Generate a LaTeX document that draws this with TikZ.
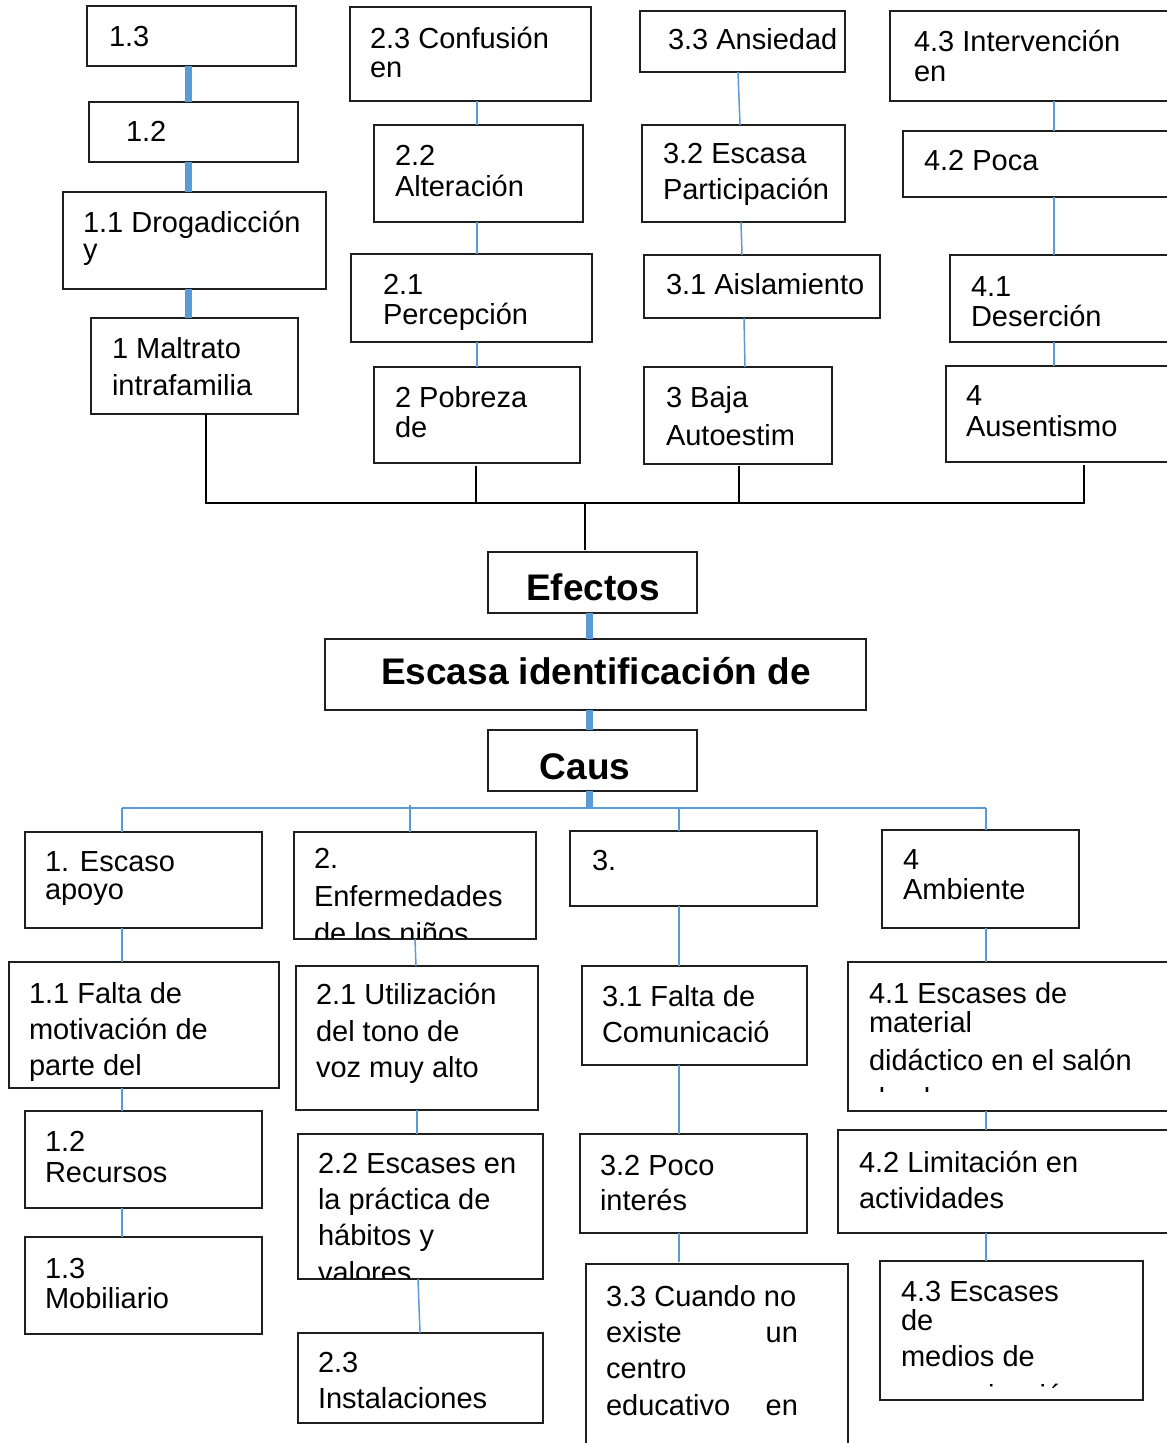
\documentclass[tikz,border=0pt]{standalone}
\usepackage{fontspec}
\setmainfont{Liberation Sans}
\usetikzlibrary{calc}
\definecolor{wblue}{RGB}{91,155,213}
\newcommand\mkbox[5]{\node[box, minimum width={#4-#2}, minimum height={#5-#3}] (#1) at (#2,#3) {};}
\newcommand\tline[4]{\node[txt] (#1) at (#2,#3) {#4};}
\begin{document}
\begin{tikzpicture}[x=1pt,y=-1pt,
  box/.style={draw=black!88, line width=1.6pt, inner sep=0pt, outer sep=0pt, anchor=north west},
  txt/.style={anchor=base west, inner sep=0pt, outer sep=0pt, font=\fontsize{29}{34}\selectfont},
  btxt/.style={anchor=base, inner sep=0pt, outer sep=0pt, font=\fontsize{37}{44}\selectfont\bfseries},
  thk/.style={draw=wblue, line width=7pt},
  thn/.style={draw=wblue, line width=1.5pt},
  blk/.style={draw=black, line width=2pt}]
\useasboundingbox (0,0) rectangle (1167,1443);
\fill[white] (0,0) rectangle (1167,1443);

% ---------- top (effects) boxes ----------
\mkbox{b13}{87}{6}{296}{66}
\mkbox{b12}{89}{102}{298}{162}
\mkbox{b11}{63}{192}{326}{289}
\mkbox{b1}{91}{318}{298}{414}
\mkbox{b23}{350}{7}{591}{101}
\mkbox{b22}{374}{125}{583}{222}
\mkbox{b21}{351}{254}{592}{342}
\mkbox{b2}{374}{367}{580}{463}
\mkbox{b33}{640}{11}{845}{72}
\mkbox{b32}{642}{125}{845}{222}
\mkbox{b31}{644}{255}{880}{318}
\mkbox{b3}{644}{367}{832}{464}
\mkbox{b43}{890}{11}{1176}{101}
\mkbox{b42}{903}{131}{1176}{197}
\mkbox{b41}{950}{255}{1176}{342}
\mkbox{b4}{946}{366}{1176}{462}

\tline{t13}{109}{46}{1.3}
\tline{t12}{126}{141}{1.2}
\tline{t11a}{83}{232}{1.1 Drogadicción}
\tline{t11b}{83}{259}{y}
\tline{t1a}{112}{358}{1 Maltrato}
\tline{t1b}{112}{395}{intrafamilia}
\tline{t23a}{370}{48}{2.3 Confusión}
\tline{t23b}{370}{77}{en}
\tline{t22a}{395}{165}{2.2}
\tline{t22b}{395}{196}{Alteración}
\tline{t21a}{383}{294}{2.1}
\tline{t21b}{383}{324}{Percepción}
\tline{t2a}{395}{407}{2 Pobreza}
\tline{t2b}{395}{437}{de}
\tline{t33}{668}{49}{3.3 Ansiedad}
\tline{t32a}{663}{163}{3.2 Escasa}
\tline{t32b}{663}{199}{Participación}
\tline{t31}{666}{294}{3.1 Aislamiento}
\tline{t3a}{666}{407}{3 Baja}
\tline{t3b}{666}{445}{Autoestim}
\tline{t43a}{914}{51}{4.3 Intervención}
\tline{t43b}{914}{81}{en}
\tline{t42}{924}{170}{4.2 Poca}
\tline{t41a}{971}{296}{4.1}
\tline{t41b}{971}{326}{Deserción}
\tline{t4a}{966}{405}{4}
\tline{t4b}{966}{436}{Ausentismo}

% top connectors
\coordinate (xa) at (188,0);
\coordinate (xb) at (477,0);
\coordinate (xd) at (1054,0);
\draw[thk] (b13.south -| xa) -- (b12.north -| xa);
\draw[thk] (b12.south -| xa) -- (b11.north -| xa);
\draw[thk] (b11.south -| xa) -- (b1.north -| xa);
\draw[thn] (b23.south -| xb) -- (b22.north -| xb);
\draw[thn] (b22.south -| xb) -- (b21.north -| xb);
\draw[thn] (b21.south -| xb) -- (b2.north -| xb);
\draw[thn] ([xshift=-4.5pt]b33.south) -- ([xshift=-3.5pt]b32.north);
\draw[thn] ([xshift=-2.5pt]b32.south) -- ([xshift=-20pt]b31.north);
\draw[thn] ([xshift=-18pt]b31.south) -- ([xshift=7pt]b3.north);
\draw[thn] (b43.south -| xd) -- (b42.north -| xd);
\draw[thn] (b42.south -| xd) -- (b41.north -| xd);
\draw[thn] (b41.south -| xd) -- (b4.north -| xd);

% effects bracket
\coordinate (ja) at (206,503);
\coordinate (jb) at (476,503);
\coordinate (jc) at (739,503);
\coordinate (jd) at (1084,503);
\coordinate (je) at (585,503);
\draw[blk] (b1.south -| ja) -- (ja) -- (jd) -- ([yshift=-3pt]b4.south -| jd);
\draw[blk] ([yshift=-3pt]b2.south -| jb) -- (jb);
\draw[blk] ([yshift=-2pt]b3.south -| jc) -- (jc);

% ---------- centre ----------
\mkbox{efb}{488}{552}{697}{613}
\mkbox{mainb}{325}{639}{866}{710}
\mkbox{cab}{488}{730}{697}{791}
\node[btxt] (tef) at (593,600) {Efectos};
\node[btxt] (tmain) at (596,684) {Escasa identificación de};
\node[btxt] (tca) at (585,779) {Caus};
\draw[blk] (je) -- ([yshift=2pt]efb.north -| je);
\coordinate (xm) at (589,0);
\coordinate (hm) at (589,808);
\draw[thk] (efb.south -| xm) -- (mainb.north -| xm);
\draw[thk] (mainb.south -| xm) -- (cab.north -| xm);
\draw[thk] (cab.south -| xm) -- (hm);

% ---------- bottom (causes) boxes ----------
\mkbox{c1}{25}{832}{262}{928}
\mkbox{c11}{9}{962}{279}{1088}
\mkbox{c12}{25}{1111}{262}{1208}
\mkbox{c13}{25}{1237}{262}{1334}
\mkbox{c2}{294}{832}{536}{939}
\mkbox{c21}{296}{966}{538}{1110}
\mkbox{c22}{298}{1134}{543}{1279}
\mkbox{c23}{298}{1333}{543}{1423}
\mkbox{c3}{570}{831}{817}{906}
\mkbox{c31}{582}{966}{807}{1065}
\mkbox{c32}{580}{1134}{807}{1233}
\mkbox{c33}{586}{1264}{848}{1460}
\mkbox{c4}{882}{830}{1079}{928}
\mkbox{c41}{848}{962}{1176}{1111}
\mkbox{c42}{838}{1130}{1176}{1233}
\mkbox{c43}{880}{1261}{1143}{1400}

\tline{s1a}{45}{871}{1. Escaso}
\tline{s1b}{45}{899}{apoyo}
\tline{s11a}{29}{1003}{1.1 Falta de}
\tline{s11b}{29}{1039}{motivación de}
\tline{s11c}{29}{1075}{parte del}
\tline{s12a}{45}{1151}{1.2}
\tline{s12b}{45}{1182}{Recursos}
\tline{s13a}{45}{1278}{1.3}
\tline{s13b}{45}{1308}{Mobiliario}
\tline{s2a}{314}{868}{2.}
\tline{s2b}{314}{906}{Enfermedades}
\begin{scope}
\clip (294,832) rectangle (536,938);
\tline{s2c}{314}{943}{de los niños}
\end{scope}
\tline{s21a}{316}{1004}{2.1 Utilización}
\tline{s21b}{316}{1041}{del tono de}
\tline{s21c}{316}{1077}{voz muy alto}
\tline{s22a}{318}{1173}{2.2 Escases en}
\tline{s22b}{318}{1209}{la práctica de}
\tline{s22c}{318}{1245}{hábitos y}
\begin{scope}
\clip (298,1134) rectangle (543,1278);
\tline{s22d}{318}{1282}{valores}
\end{scope}
\tline{s23a}{318}{1372}{2.3}
\tline{s23b}{318}{1408}{Instalaciones}
\tline{s3a}{592}{870}{3.}
\tline{s31a}{602}{1006}{3.1 Falta de}
\tline{s31b}{602}{1042}{Comunicació}
\tline{s32a}{600}{1175}{3.2 Poco}
\tline{s32b}{600}{1210}{interés}
\tline{s33a}{606}{1306}{3.3 Cuando no}
\tline{s33b}{606}{1342}{\hbox to 192pt{existe\hfill un}}
\tline{s33c}{606}{1378}{centro}
\tline{s33d}{606}{1415}{\hbox to 192pt{educativo\hfill en}}
\tline{s4a}{903}{869}{4}
\tline{s4b}{903}{899}{Ambiente}
\tline{s41a}{869}{1003}{4.1 Escases de}
\tline{s41b}{869}{1032}{material}
\tline{s41c}{869}{1070}{didáctico en el salón}
\begin{scope}
\clip (848,962) rectangle (1167,1091);
\tline{s41d}{869}{1108}{de clases}
\end{scope}
\tline{s42a}{859}{1172}{4.2 Limitación en}
\tline{s42b}{859}{1208}{actividades}
\tline{s43a}{901}{1301}{4.3 Escases}
\tline{s43b}{901}{1330}{de}
\tline{s43c}{901}{1366}{medios de}
\begin{scope}
\clip (880,1261) rectangle (1143,1387);
\tline{s43d}{901}{1405}{comunicación}
\end{scope}

% bottom connectors
\coordinate (ha) at (122,808);
\coordinate (hb) at (410,808);
\coordinate (hc) at (679,808);
\coordinate (hd) at (986,808);
\draw[thn] (ha) -- (hd);
\draw[thn] (ha) -- (c1.north -| ha);
\draw[thn] ([yshift=3pt]hb) -- (c2.north -| hb);
\draw[thn] (hc) -- (c3.north -| hc);
\draw[thn] (hd) -- (c4.north -| hd);
\draw[thn] (c1.south -| ha) -- (c11.north -| ha);
\draw[thn] (c11.south -| ha) -- (c12.north -| ha);
\draw[thn] (c12.south -| ha) -- (c13.north -| ha);
\draw[thn] (c2.south) -- ([xshift=-1pt]c21.north);
\draw[thn] (c21.south) -- ([xshift=-3.5pt]c22.north);
\draw[thn] ([xshift=-2.5pt]c22.south) -- ([xshift=-0.5pt]c23.north);
\draw[thn] (c3.south -| hc) -- (c31.north -| hc);
\draw[thn] (c31.south -| hc) -- (c32.north -| hc);
\draw[thn] (c32.south -| hc) -- ([yshift=2pt]c33.north -| hc);
\draw[thn] (c4.south -| hd) -- (c41.north -| hd);
\draw[thn] (c41.south -| hd) -- (c42.north -| hd);
\draw[thn] (c42.south -| hd) -- (c43.north -| hd);
\end{tikzpicture}
\end{document}
